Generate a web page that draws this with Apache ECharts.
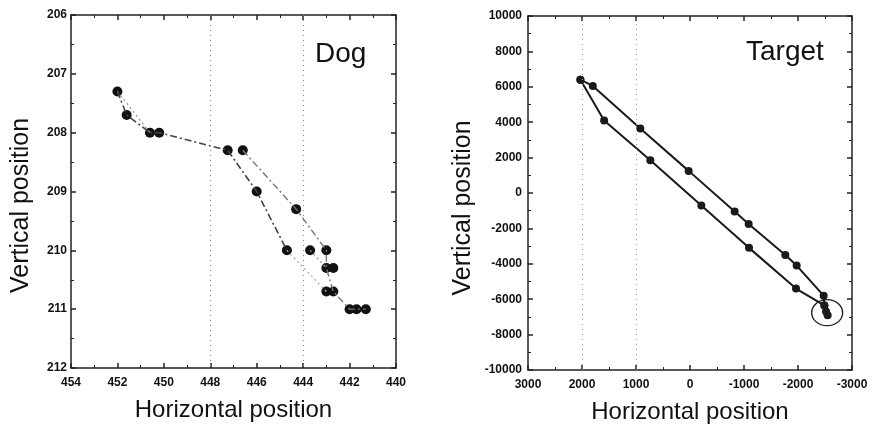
<!DOCTYPE html>
<html>
<head>
<meta charset="utf-8">
<script src="https://cdn.jsdelivr.net/npm/echarts@6/dist/echarts.min.js"></script>
<style>
  html, body { margin: 0; padding: 0; background: #fff; }
  #chart { width: 874px; height: 432px; }
</style>
</head>
<body>
<div id="chart"></div>
<script>
// Dog panel: all measured points
const dogPoints = [
  [452.0, 207.3], [451.6, 207.7], [450.6, 208.0], [450.2, 208.0],
  [447.25, 208.3], [446.6, 208.3], [446.0, 209.0], [444.3, 209.3],
  [444.7, 210.0], [443.7, 210.0], [443.0, 210.0], [443.0, 210.3],
  [442.7, 210.3], [443.0, 210.7], [442.7, 210.7], [442.0, 211.0],
  [441.7, 211.0], [441.3, 211.0]
];
// dog paths (dash-dot)
const dogPathA = [[452.0, 207.3], [451.6, 207.7], [450.6, 208.0], [450.2, 208.0], [447.25, 208.3], [446.0, 209.0], [444.7, 210.0]];
const dogPathB = [[446.6, 208.3], [444.3, 209.3], [443.0, 210.0], [443.0, 210.3], [442.7, 210.7], [442.0, 211.0], [441.3, 211.0]];
// fainter dotted pieces
const dogFaint1 = [[452.0, 207.3], [450.6, 208.0]];
const dogFaint2 = [[444.7, 210.0], [443.0, 210.7]];
const dogFaint3 = [[443.7, 210.0], [443.0, 210.3]];
const dogGridX = [448, 444];

// Target panel
const targetUpper = [[2030, 6400], [1800, 6050], [920, 3650], [25, 1250], [-827, -1050], [-1086, -1750], [-1765, -3500], [-1975, -4100], [-2475, -5800], [-2488, -6350]];
const targetLower = [[2030, 6400], [1590, 4100], [735, 1850], [-210, -700], [-1093, -3100], [-1963, -5400], [-2488, -6350], [-2519, -6700], [-2549, -6900]];
const targetCircle = [[-2540, -6760]];
const targetGridX = [1000, 2000];

const FONT = "Liberation Sans";
const AXIS_COLOR = "#222";

function baseAxis(extra, labelMargin) {
  return Object.assign({
    type: "value",
    axisLine: { show: true, onZero: false, lineStyle: { color: AXIS_COLOR, width: 1.5 } },
    axisTick: { show: true, inside: true, length: 5, lineStyle: { color: AXIS_COLOR, width: 1.5 } },
    minorTick: { show: true, splitNumber: 2, length: 3, lineStyle: { color: AXIS_COLOR, width: 1 } },
    splitLine: { show: false },
    axisLabel: {
      color: "#111", fontFamily: FONT, fontSize: 12, fontWeight: "bold", margin: labelMargin || 5,
      formatter: v => String(v),
    },
    nameTextStyle: { color: "#111", fontFamily: FONT, fontSize: 24 },
  }, extra);
}
function mirror(extra) {
  return baseAxis(Object.assign({ axisLabel: { show: false } }, extra));
}

const chart = echarts.init(document.getElementById("chart"));
const option = {
  backgroundColor: "#fff",
  animation: false,
  title: [
    { text: "Dog", left: 315, top: 40, padding: 0, textStyle: { fontFamily: FONT, fontSize: 28, fontWeight: "normal", color: "#111" } },
    { text: "Target", left: 746, top: 38, padding: 0, textStyle: { fontFamily: FONT, fontSize: 28, fontWeight: "normal", color: "#111" } },
  ],
  grid: [
    { left: 71, top: 15, width: 325, height: 353 },
    { left: 528, top: 16, width: 324, height: 354 },
  ],
  xAxis: [
    baseAxis({ gridIndex: 0, min: 440, max: 454, interval: 2, inverse: true, position: "bottom",
      name: "Horizontal position", nameLocation: "middle", nameGap: 30 }, 9),
    mirror({ gridIndex: 0, min: 440, max: 454, interval: 2, inverse: true, position: "top" }),
    baseAxis({ gridIndex: 1, min: -3000, max: 3000, interval: 1000, inverse: true, position: "bottom",
      name: "Horizontal position", nameLocation: "middle", nameGap: 30 }, 9),
    mirror({ gridIndex: 1, min: -3000, max: 3000, interval: 1000, inverse: true, position: "top" }),
  ],
  yAxis: [
    baseAxis({ gridIndex: 0, min: 206, max: 212, interval: 1, inverse: true, position: "left",
      name: "Vertical position", nameLocation: "middle", nameGap: 37,
      nameTextStyle: { color: "#111", fontFamily: FONT, fontSize: 25, padding: [0, 28, 0, 0] } }, 4),
    mirror({ gridIndex: 0, min: 206, max: 212, interval: 1, inverse: true, position: "right" }),
    baseAxis({ gridIndex: 1, min: -10000, max: 10000, interval: 2000, position: "left",
      name: "Vertical position", nameLocation: "middle", nameGap: 52,
      nameTextStyle: { color: "#111", fontFamily: FONT, fontSize: 25, padding: [0, 30, 0, 0] } }, 6),
    mirror({ gridIndex: 1, min: -10000, max: 10000, interval: 2000, position: "right" }),
  ],
  series: [
    {
      type: "line", xAxisIndex: 0, yAxisIndex: 0, data: dogFaint1, symbol: "none",
      lineStyle: { color: "#999", width: 1.3, type: [2, 3] },
    },
    {
      type: "line", xAxisIndex: 0, yAxisIndex: 0, data: dogFaint2, symbol: "none",
      lineStyle: { color: "#aaa", width: 1.3, type: [2, 3] },
    },
    {
      type: "line", xAxisIndex: 0, yAxisIndex: 0, data: dogFaint3, symbol: "none",
      lineStyle: { color: "#999", width: 1.3, type: [2, 3] },
    },
    {
      type: "line", xAxisIndex: 0, yAxisIndex: 0, data: dogPathA, symbol: "none",
      lineStyle: { color: "#444", width: 1.6, type: [7, 3, 2, 3] },
    },
    {
      type: "line", xAxisIndex: 0, yAxisIndex: 0, data: dogPathB, symbol: "none",
      lineStyle: { color: "#777", width: 1.4, type: [7, 3, 2, 3] },
    },
    {
      type: "scatter", xAxisIndex: 0, yAxisIndex: 0, data: dogPoints, symbolSize: 10,
      itemStyle: { color: "#111", opacity: 1 },
      markLine: {
        silent: true, symbol: "none", label: { show: false },
        lineStyle: { color: "#888", width: 1, type: [1, 4] },
        data: dogGridX.map(v => ({ xAxis: v })),
      },
    },
    {
      type: "line", xAxisIndex: 2, yAxisIndex: 2, data: targetUpper, symbol: "circle", symbolSize: 8,
      lineStyle: { color: "#1a1a1a", width: 2 }, itemStyle: { color: "#1a1a1a" },
      markLine: {
        silent: true, symbol: "none", label: { show: false },
        lineStyle: { color: "#999", width: 1, type: [1, 4] },
        data: targetGridX.map(v => ({ xAxis: v })),
      },
    },
    {
      type: "line", xAxisIndex: 2, yAxisIndex: 2, data: targetLower, symbol: "circle", symbolSize: 8,
      lineStyle: { color: "#1a1a1a", width: 2 }, itemStyle: { color: "#1a1a1a" },
    },
    {
      type: "scatter", xAxisIndex: 2, yAxisIndex: 2, data: targetCircle, symbol: "circle", symbolSize: [31, 26],
      itemStyle: { color: "transparent", borderColor: "#222", borderWidth: 1.3, opacity: 1 },
    },
  ],
};
chart.setOption(option);
</script>
</body>
</html>
